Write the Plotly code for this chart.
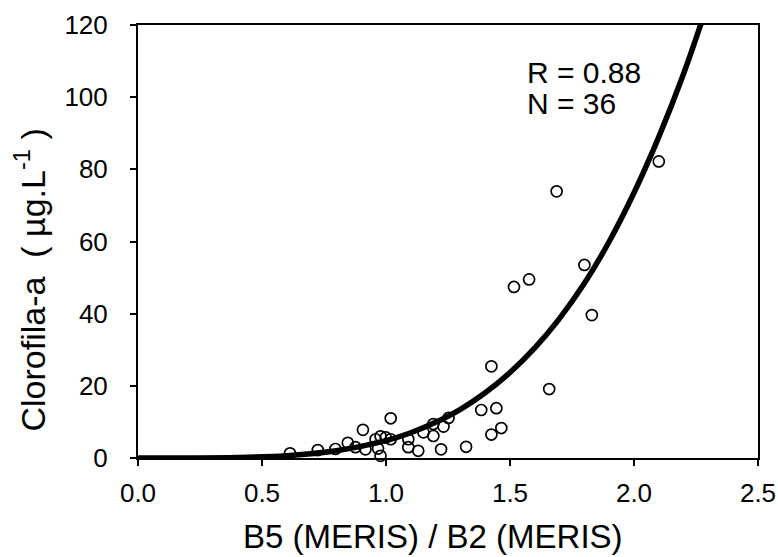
import plotly.graph_objects as go

# Observed points (B5/B2 ratio vs chlorophyll-a)
ratio = [0.613, 0.725, 0.796, 0.846, 0.907, 0.917, 0.958, 0.978, 0.968, 0.978,
         1.019, 1.019, 1.090, 1.090, 1.130, 1.151, 1.191, 1.232, 1.222, 1.323,
         1.384, 1.445, 1.425, 1.465, 1.425, 1.658, 1.516, 1.577, 1.688, 1.800,
         1.830, 2.100, 1.191, 0.999, 1.252, 0.877]
chla = [1.3, 2.2, 2.5, 4.2, 7.8, 2.4, 5.2, 6.0, 2.6, 0.6,
        5.2, 11.0, 5.2, 3.0, 2.0, 7.1, 6.1, 8.7, 2.4, 3.1,
        13.3, 13.8, 6.5, 8.3, 25.4, 19.1, 47.4, 49.5, 73.9, 53.5,
        39.6, 82.2, 9.4, 5.7, 11.1, 3.0]

# Fitted curve
fit_x = [0.0, 0.2, 0.4, 0.6, 0.8, 1.0, 1.1, 1.2, 1.3, 1.4, 1.5, 1.6,
         1.7, 1.8, 1.9, 2.0, 2.1, 2.2, 2.3]
fit_y = [0.0, 0.009, 0.13, 0.65, 2.01, 4.83, 7.0, 9.9, 13.5, 18.1, 23.7, 30.5,
         38.7, 48.4, 60.0, 73.5, 89.0, 106.5, 126.5]

x_ticks = [0.0, 0.5, 1.0, 1.5, 2.0, 2.5]
y_ticks = [0, 20, 40, 60, 80, 100, 120]

font = "Liberation Sans, Arial, Helvetica, sans-serif"

fig = go.Figure()
fig.add_trace(go.Scatter(x=fit_x, y=fit_y, mode="lines",
                         line=dict(color="black", width=5.5, shape="spline"),
                         showlegend=False, hoverinfo="skip"))
fig.add_trace(go.Scatter(x=ratio, y=chla, mode="markers",
                         marker=dict(symbol="circle-open", size=11, color="black",
                                     line=dict(color="black", width=1.7)),
                         showlegend=False, cliponaxis=False))

fig.add_annotation(x=0.624, y=0.891, xref="paper", yref="paper",
                   xanchor="left", yanchor="middle", showarrow=False,
                   text="R = 0.88",
                   font=dict(family=font, size=30, color="black"))
fig.add_annotation(x=0.624, y=0.818, xref="paper", yref="paper",
                   xanchor="left", yanchor="middle", showarrow=False,
                   text="N = 36",
                   font=dict(family=font, size=30, color="black"))

# Axis titles
fig.add_annotation(x=0.476, y=-0.182, xref="paper", yref="paper",
                   xanchor="center", yanchor="middle", showarrow=False,
                   borderpad=0,
                   text="B5 (MERIS) / B2 (MERIS)",
                   font=dict(family=font, size=33, color="black"))
fig.add_annotation(x=-0.175, y=0.411, xref="paper", yref="paper",
                   xanchor="center", yanchor="middle", showarrow=False,
                   textangle=-90, borderpad=0,
                   text="Clorofila-a  ( µg.L<sup>-1</sup> )",
                   font=dict(family=font, size=34, color="black"))

fig.update_xaxes(range=[0, 2.5], tickvals=x_ticks,
                 ticktext=[f"{v:.1f}" for v in x_ticks],
                 showline=True, linecolor="black", linewidth=2, mirror=True,
                 ticks="outside", ticklen=6, tickwidth=1.5, tickcolor="black",
                 ticklabelstandoff=5, automargin=False,
                 showgrid=False, zeroline=False,
                 tickfont=dict(family=font, size=26, color="black"))
fig.update_yaxes(range=[0, 120], tickvals=y_ticks,
                 showline=True, linecolor="black", linewidth=2, mirror=True,
                 ticks="outside", ticklen=6, tickwidth=1.5, tickcolor="black",
                 ticklabelstandoff=17, automargin=False,
                 showgrid=False, zeroline=False,
                 tickfont=dict(family=font, size=26, color="black"))

fig.update_layout(width=778, height=557,
                  margin=dict(l=138, r=20, t=25, b=99),
                  plot_bgcolor="white", paper_bgcolor="white")

fig.write_html("out.html")
